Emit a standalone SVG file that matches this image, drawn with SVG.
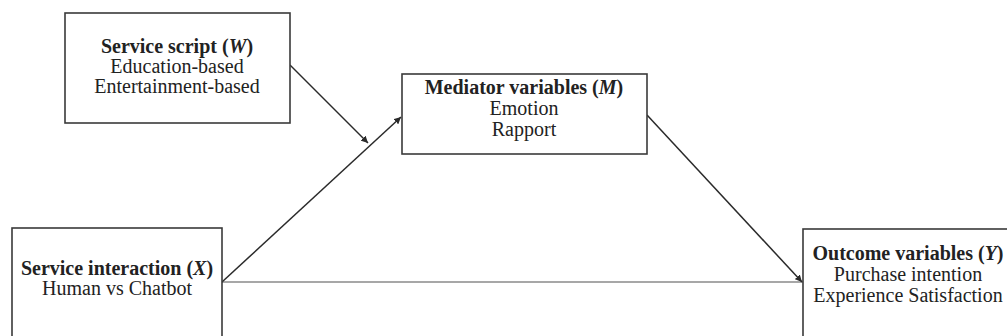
<svg xmlns="http://www.w3.org/2000/svg" width="1007" height="336" viewBox="0 0 1007 336">
<style>
.box{fill:#fff;stroke:#3a3a3a;stroke-width:1.6}
.t{font-family:'Liberation Serif','DejaVu Serif',serif;font-size:20px;fill:#222;text-anchor:middle}
.h{font-weight:bold}
.i{font-style:italic}
.ln{stroke:#2a2a2a;stroke-width:1.5;fill:none}
.lg{stroke:#8a8a8a;stroke-width:1.5;fill:none}
</style>
<defs>
<marker id="ah" viewBox="0 0 10 10" refX="10" refY="5" markerWidth="7" markerHeight="7" markerUnits="userSpaceOnUse" orient="auto">
<path d="M0,0 L10,5 L0,10 z" fill="#2a2a2a"/>
</marker>
</defs>
<rect width="1007" height="336" fill="#fff"/>
<g id="connectors">
<line class="lg" x1="222" y1="282" x2="803" y2="282"/>
<line class="ln" x1="222" y1="282" x2="401" y2="117" marker-end="url(#ah)"/>
<line class="ln" x1="290" y1="65" x2="368" y2="143" marker-end="url(#ah)"/>
<line class="ln" x1="647" y1="115" x2="802" y2="282" marker-end="url(#ah)"/>
</g>
<g id="node-W">
<rect class="box" x="65" y="13" width="225" height="110"/>
<text class="t" x="177" y="53"><tspan class="h">Service script (<tspan class="i">W</tspan>)</tspan></text>
<text class="t" x="177" y="73">Education-based</text>
<text class="t" x="177" y="93">Entertainment-based</text>
</g>
<g id="node-M">
<rect class="box" x="402" y="74" width="245" height="80"/>
<text class="t" x="524" y="94"><tspan class="h">Mediator variables (<tspan class="i">M</tspan>)</tspan></text>
<text class="t" x="524" y="115">Emotion</text>
<text class="t" x="524" y="136">Rapport</text>
</g>
<g id="node-X">
<rect class="box" x="12" y="228" width="210" height="120"/>
<text class="t" x="117" y="275"><tspan class="h">Service interaction (<tspan class="i">X</tspan>)</tspan></text>
<text class="t" x="117" y="295">Human vs Chatbot</text>
</g>
<g id="node-Y">
<rect class="box" x="803" y="229" width="220" height="120"/>
<text class="t" x="908" y="260"><tspan class="h">Outcome variables (<tspan class="i">Y</tspan>)</tspan></text>
<text class="t" x="908" y="281">Purchase intention</text>
<text class="t" x="908" y="302">Experience Satisfaction</text>
</g>
</svg>
